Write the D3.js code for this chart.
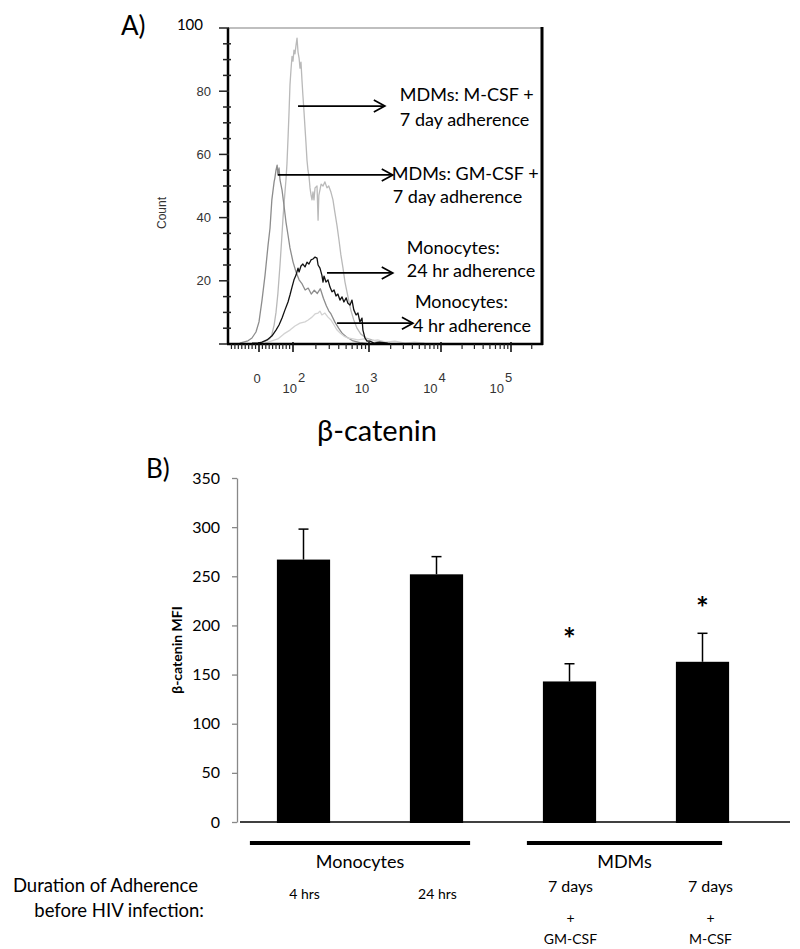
<!DOCTYPE html>
<html><head><meta charset="utf-8">
<script src="https://cdn.jsdelivr.net/npm/d3@7"></script>
<style>body{margin:0;background:#fff}svg{display:block}</style>
</head><body>
<svg id="c" width="800" height="949"></svg>
<script>
// ---------------- DATA ----------------
// Panel A: flow histogram (x = display position in decades, 0 shown at 1.55; y = Count)
const histYTicks = [0, 20, 40, 60, 80, 100];
const histXTickValues = [1.55, 2, 3, 4, 5];
const histXTickLabels = [["0", ""], ["10", "2"], ["10", "3"], ["10", "4"], ["10", "5"]];

const mcsf7d = [[1.55,0.3],[1.63,0.8],[1.69,1.6],[1.72,3],[1.75,6],[1.775,10],[1.80,16],[1.828,25],[1.85,33],[1.868,40],[1.89,47],[1.907,52],[1.92,57],[1.934,65],[1.947,73],[1.96,82],[1.974,87],[1.987,91],[2.0,89.5],[2.013,93],[2.026,91.8],[2.04,94.6],[2.053,96.8],[2.066,92.4],[2.08,90.5],[2.092,87.3],[2.105,89.2],[2.118,83.5],[2.13,78.8],[2.145,73.4],[2.158,68.4],[2.17,63.9],[2.184,58.2],[2.197,55],[2.21,53.2],[2.224,49.4],[2.237,47.2],[2.25,45.6],[2.263,48.1],[2.276,45.6],[2.29,49.4],[2.316,50],[2.33,39.2],[2.34,47],[2.37,50.6],[2.395,50],[2.42,51.3],[2.447,49.4],[2.47,50],[2.5,48],[2.526,45.6],[2.55,41.8],[2.58,37.3],[2.605,32.9],[2.63,28.2],[2.658,24],[2.684,19.6],[2.71,16.5],[2.737,13.3],[2.76,10.8],[2.80,7.6],[2.84,5.1],[2.89,3.2],[2.96,1.9],[3.04,1.3],[3.15,0.6],[3.29,0.3]];
const gmcsf7d = [[1.27,0.3],[1.39,1],[1.448,1.9],[1.506,3.8],[1.55,7],[1.59,13.9],[1.63,21.8],[1.67,31.3],[1.696,36.7],[1.72,45.6],[1.75,51.3],[1.76,52.5],[1.775,55],[1.79,56.6],[1.80,53.5],[1.815,55.7],[1.828,51.9],[1.855,48.7],[1.88,44],[1.907,38.6],[1.934,34.5],[1.96,30.4],[2.0,26],[2.04,22.8],[2.08,20.3],[2.12,19],[2.16,17.1],[2.2,17.7],[2.24,15.8],[2.28,17],[2.32,16],[2.36,17.5],[2.40,14.5],[2.44,12],[2.47,10.5],[2.5,9.5],[2.55,7],[2.6,5],[2.65,3.3],[2.7,2.3],[2.78,1.1],[2.88,0.4],[3.01,0]];
const mono24h = [[1.448,0.3],[1.536,0.3],[1.59,0.6],[1.656,1.3],[1.72,2.5],[1.775,4.4],[1.815,6],[1.855,8.2],[1.894,10.8],[1.934,13.3],[1.96,15.5],[1.987,18],[2.013,20.3],[2.04,21.8],[2.066,24],[2.08,22.8],[2.105,24.7],[2.13,25.3],[2.158,24.4],[2.184,25.9],[2.21,25.3],[2.237,26.6],[2.263,26.9],[2.29,27.5],[2.316,27.2],[2.33,25],[2.355,24],[2.38,21.8],[2.395,19.6],[2.408,21.5],[2.434,19.6],[2.46,20.3],[2.487,18],[2.513,16.5],[2.54,17.1],[2.566,15.2],[2.59,15.8],[2.618,13.9],[2.645,14.9],[2.67,13.3],[2.70,14.6],[2.72,13],[2.75,12.3],[2.776,13.9],[2.80,10.8],[2.83,9.2],[2.855,9.8],[2.88,7],[2.908,8.2],[2.92,4.4],[2.947,1.9],[2.974,0.9],[3.01,0.9],[3.07,0.3],[3.15,0.6],[3.26,0.3]];
const mono4h = [[1.63,0.3],[1.72,1],[1.80,1.6],[1.88,3.2],[1.96,4.4],[2.026,5.7],[2.092,6.6],[2.158,7],[2.2,7.6],[2.25,8.5],[2.29,9.5],[2.33,9.8],[2.355,10.4],[2.38,9.2],[2.42,9.8],[2.46,8.5],[2.5,7.6],[2.54,6],[2.58,4.4],[2.62,3.5],[2.67,2.5],[2.72,1.9],[2.79,1.6],[2.855,1.3],[2.935,1.6],[3.01,0.9],[3.12,1.3],[3.23,0.6],[3.36,0.9],[3.5,0.3],[3.63,0.6],[3.77,0.3]];

const annotLines = [["MDMs: M-CSF +", "7 day adherence"], ["MDMs: GM-CSF +", "7 day adherence"], ["Monocytes:", "24 hr adherence"], ["Monocytes:", "4 hr adherence"]];
const annotFrom = [[2.066, 75.3], [1.80, 53.5], [2.447, 22.5], [2.58, 6.6]];
const annotTo   = [[3.22, 75.3], [3.33, 53.5], [3.33, 22.5], [3.61, 6.6]];

// Panel B: bar chart
const barCategories = ["4 hrs", "24 hrs", "7 days GM-CSF", "7 days M-CSF"];
const barValues = [267, 252, 143, 163];
const barErrors = [31, 18, 18, 29];
const barSignificant = [false, false, true, true];
const barYTicks = [0, 50, 100, 150, 200, 250, 300, 350];
const groupLabels = ["Monocytes", "MDMs"];
const groupMembers = [[0, 1], [2, 3]];
const durationTop = ["4 hrs", "24 hrs", "7 days", "7 days"];
const durationPlus = ["", "", "+", "+"];
const durationFactor = ["", "", "GM-CSF", "M-CSF"];

// ---------------- DRAW ----------------
const svg = d3.select("#c");
const LATO = "Lato, 'Open Sans', sans-serif";
const ARIAL = "'Liberation Sans', Arial, sans-serif";

// ===== Panel A =====
const A = {l: 228, r: 542, t: 28, b: 344};
const xA = d3.scaleLinear().domain([1.1, 1.55, 2, 3, 4, 5, 5.45]).range([228, 259, 293, 369, 441, 511, 542]);
const yA = d3.scaleLinear().domain([0, 100]).range([A.b, A.t]);
const gA = svg.append("g");

gA.append("text").attr("x", 121).attr("y", 35).attr("font-family", LATO).attr("font-size", 26).text("A)");

gA.append("line").attr("x1", A.l).attr("x2", A.r).attr("y1", A.t).attr("y2", A.t).attr("stroke", "#aaa").attr("stroke-width", 1.5);

const series = [
  {data: mcsf7d, color: "#b9b9b9"},
  {data: gmcsf7d, color: "#8c8c8c"},
  {data: mono4h, color: "#d3d3d3"},
  {data: mono24h, color: "#111"}
];
const lineGen = d3.line().x(d => xA(d[0])).y(d => yA(d[1]));
series.forEach(s => {
  gA.append("path").datum(s.data).attr("d", lineGen).attr("fill", "none")
    .attr("stroke", s.color).attr("stroke-width", 1.3).attr("stroke-linejoin", "round");
});

gA.append("line").attr("x1", A.r).attr("x2", A.r).attr("y1", A.t - 1).attr("y2", A.b + 1).attr("stroke", "#000").attr("stroke-width", 3);

// y axis
gA.append("line").attr("x1", A.l).attr("x2", A.l).attr("y1", A.t).attr("y2", A.b).attr("stroke", "#000").attr("stroke-width", 2.5);
d3.range(0, 101, 5).forEach(v => {
  const major = histYTicks.includes(v);
  gA.append("line").attr("x1", major ? A.l - 9 : A.l - 5).attr("x2", A.l + (major ? 1 : 3))
    .attr("y1", yA(v)).attr("y2", yA(v)).attr("stroke", "#222").attr("stroke-width", 1.5);
});
histYTicks.forEach(v => {
  if (v === 100) {
    gA.append("text").attr("x", 203).attr("y", yA(v) + 2).attr("text-anchor", "end")
      .attr("font-family", LATO).attr("font-size", 15).text(v);
  } else if (v !== 0) {
    gA.append("text").attr("x", 211).attr("y", yA(v)).attr("dy", "0.36em").attr("text-anchor", "end")
      .attr("font-family", ARIAL).attr("font-size", 13).attr("fill", "#333").text(v);
  }
});
gA.append("text").attr("transform", `translate(166,${(A.t + A.b) / 2 + 27}) rotate(-90)`)
  .attr("text-anchor", "middle").attr("font-family", ARIAL).attr("font-size", 12).attr("fill", "#333").text("Count");

// x axis
gA.append("line").attr("x1", A.l - 1).attr("x2", A.r + 1).attr("y1", A.b).attr("y2", A.b).attr("stroke", "#000").attr("stroke-width", 2.5);
const minorX = [];
d3.range(1.15, 1.54, 0.05).forEach(u => minorX.push(u));
d3.range(1, 10).forEach(k => minorX.push(1.55 + 0.45 * k / 10));
[2, 3, 4, 5].forEach(d => d3.range(2, 10).forEach(k => minorX.push(d + Math.log10(k))));
minorX.filter(u => u < 5.44).forEach(u => gA.append("line").attr("x1", xA(u)).attr("x2", xA(u)).attr("y1", A.b).attr("y2", A.b + 5)
  .attr("stroke", "#222").attr("stroke-width", 1.2));
histXTickValues.forEach((u, i) => {
  gA.append("line").attr("x1", xA(u)).attr("x2", xA(u)).attr("y1", A.b - 2).attr("y2", A.b + 8)
    .attr("stroke", "#111").attr("stroke-width", 1.6);
  const lab = histXTickLabels[i];
  if (lab[1] === "") {
    gA.append("text").attr("x", xA(u) - 2).attr("y", 383).attr("text-anchor", "middle")
      .attr("font-family", ARIAL).attr("font-size", 13).attr("fill", "#333").text(lab[0]);
  } else {
    const c = xA(u) - (u - 2) * 3.7 + 1;
    gA.append("text").attr("x", c + 3).attr("y", 393).attr("text-anchor", "end")
      .attr("font-family", ARIAL).attr("font-size", 13).attr("fill", "#333").text(lab[0]);
    gA.append("text").attr("x", c + 4).attr("y", 382).attr("text-anchor", "start")
      .attr("font-family", ARIAL).attr("font-size", 13).attr("fill", "#333").text(lab[1]);
  }
});

// annotations with arrows
const annotTextLayout = [
  {dx: [15, 15], dy: [-5, 20]},
  {dx: [-1, 0], dy: [5, 28]},
  {dx: [14, 14], dy: [-19, 4]},
  {dx: [2, 0], dy: [-15, 9]}
];
annotLines.forEach((lines, i) => {
  const x1 = xA(annotFrom[i][0]), y1 = yA(annotFrom[i][1]);
  const x2 = xA(annotTo[i][0]), y2 = yA(annotTo[i][1]);
  gA.append("line").attr("x1", x1).attr("y1", y1).attr("x2", x2).attr("y2", y2).attr("stroke", "#000").attr("stroke-width", 1.7);
  gA.append("path").attr("d", `M${x2 - 11},${y2 - 6}L${x2},${y2}L${x2 - 11},${y2 + 6}`)
    .attr("fill", "none").attr("stroke", "#000").attr("stroke-width", 1.7);
  lines.forEach((s, j) => {
    gA.append("text").attr("x", x2 + annotTextLayout[i].dx[j]).attr("y", y2 + annotTextLayout[i].dy[j])
      .attr("font-family", LATO).attr("font-size", 18).text(s);
  });
});

svg.append("text").attr("x", 377).attr("y", 441).attr("text-anchor", "middle")
  .attr("font-family", LATO).attr("font-size", 29).text("β-catenin");

// ===== Panel B =====
const B = {l: 237, t: 478, b: 822};
const yB = d3.scaleLinear().domain([0, 350]).range([B.b, B.t]);
const xB = d3.scaleBand().domain(barCategories).range([237, 769]).paddingInner(0.6).paddingOuter(0.3);
const gB = svg.append("g");

gB.append("text").attr("x", 146).attr("y", 478).attr("font-family", LATO).attr("font-size", 26).text("B)");

const yAxisB = gB.append("g").attr("transform", `translate(${B.l},0)`)
  .call(d3.axisLeft(yB).tickValues(barYTicks).tickSize(5).tickSizeOuter(0).tickPadding(12));
yAxisB.select(".domain").attr("stroke", "#888").attr("stroke-width", 1.3);
yAxisB.selectAll(".tick line").attr("stroke", "#888").attr("stroke-width", 1.3);
yAxisB.selectAll(".tick text").attr("font-family", LATO).attr("font-size", 16).attr("fill", "#000");

gB.append("text").attr("transform", `translate(182,650) rotate(-90)`).attr("text-anchor", "middle")
  .attr("font-family", LATO).attr("font-weight", "bold").attr("font-size", 14).text("β-catenin MFI");

gB.append("line").attr("x1", 240).attr("x2", 790).attr("y1", B.b).attr("y2", B.b).attr("stroke", "#000").attr("stroke-width", 1.6);

barCategories.forEach((c, i) => {
  const x = xB(c), w = xB.bandwidth(), cx = x + w / 2;
  const top = yB(barValues[i] + barErrors[i]);
  gB.append("line").attr("x1", cx).attr("x2", cx).attr("y1", yB(barValues[i])).attr("y2", top).attr("stroke", "#000").attr("stroke-width", 1.5);
  gB.append("line").attr("x1", cx - 5).attr("x2", cx + 5).attr("y1", top).attr("y2", top).attr("stroke", "#000").attr("stroke-width", 1.5);
  gB.append("rect").attr("x", x).attr("y", yB(barValues[i])).attr("width", w).attr("height", yB(0) - yB(barValues[i]) + 1).attr("fill", "#000");
  if (barSignificant[i]) {
    gB.append("text").attr("x", cx).attr("y", top - 14).attr("text-anchor", "middle")
      .attr("font-family", LATO).attr("font-weight", "bold").attr("font-size", 30).text("*");
  }
});

// group bars & labels below
groupLabels.forEach((g, gi) => {
  const a = barCategories[groupMembers[gi][0]], b = barCategories[groupMembers[gi][1]];
  const x1 = xB(a) - (gi === 0 ? 27 : 16), x2 = xB(b) + xB.bandwidth() + (gi === 0 ? 7 : -7);
  gB.append("line").attr("x1", x1).attr("x2", x2).attr("y1", 843).attr("y2", 843).attr("stroke", "#000").attr("stroke-width", 4);
  gB.append("text").attr("x", (x1 + x2) / 2).attr("y", 868).attr("text-anchor", "middle")
    .attr("font-family", LATO).attr("font-size", 18).text(g);
});

gB.append("text").attr("x", 198).attr("y", 892).attr("text-anchor", "end").attr("font-family", LATO).attr("font-size", 18.5).text("Duration of Adherence");
gB.append("text").attr("x", 204).attr("y", 917).attr("text-anchor", "end").attr("font-family", LATO).attr("font-size", 18.5).text("before HIV infection:");

barCategories.forEach((c, i) => {
  const cx = xB(c) + xB.bandwidth() / 2 + (i === 3 ? 8 : 1);
  const isDay = durationPlus[i] !== "";
  gB.append("text").attr("x", cx).attr("y", isDay ? 892 : 899).attr("text-anchor", "middle")
    .attr("font-family", LATO).attr("font-size", isDay ? 16 : 14).text(durationTop[i]);
  if (isDay) {
    gB.append("text").attr("x", cx).attr("y", 923).attr("text-anchor", "middle").attr("font-family", LATO).attr("font-size", 14).text(durationPlus[i]);
    gB.append("text").attr("x", cx).attr("y", 944).attr("text-anchor", "middle").attr("font-family", LATO).attr("font-size", 14).text(durationFactor[i]);
  }
});
</script>
</body></html>
